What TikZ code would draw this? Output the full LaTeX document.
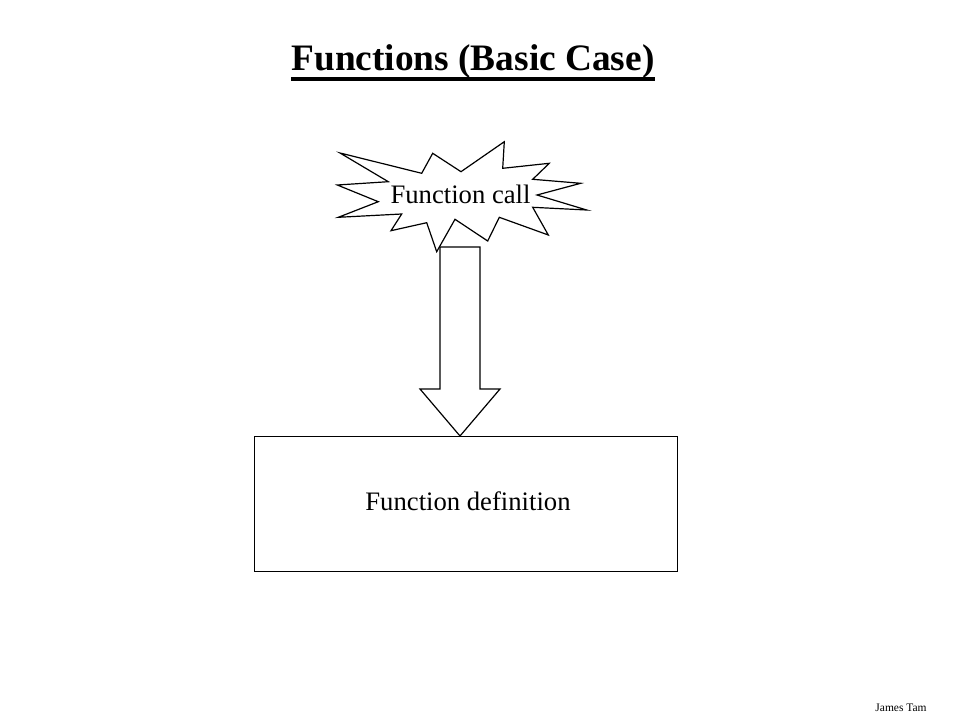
\documentclass[tikz,border=0pt]{standalone}
\usepackage{fontspec}
\setmainfont{Liberation Serif}
\begin{document}
\begin{tikzpicture}[x=0.75pt,y=-0.75pt,
  outline/.style={draw=black,line width=0.9pt,fill=white,line join=miter},
  lbl/.style={font=\fontsize{20}{24}\selectfont,inner sep=0pt}]
\useasboundingbox (0,0) rectangle (960,720);
% title
\node[font=\fontsize{28}{32}\selectfont\bfseries,inner sep=0pt,anchor=base] (title) at (473,71) {Functions (Basic Case)};
\draw[line width=2.4pt] (title.base west) ++(0,8) coordinate (ul1) -- (title.base east |- ul1);
% starburst
\draw[outline] (340,153) -- (421.7,173.3) -- (432.7,153.3) -- (461,171.7) -- (504.3,141.7)
  -- (502.7,168.3) -- (549.3,163.3) -- (532.7,179.3) -- (580.7,183.3) -- (537,195)
  -- (586.7,210) -- (532.7,207.3) -- (548.3,235) -- (499.3,217.3) -- (487.7,241)
  -- (455,219.3) -- (436.7,251.7) -- (426.7,222.7) -- (391,230.7) -- (401.7,214)
  -- (338.3,217.3) -- (378.3,201.7) -- (337.3,185) -- (388.3,181.7) -- cycle;
\node[lbl] (call) at (460.5,194) {Function call};
% box
\node[draw=black,line width=0.9pt,minimum width=423*0.75pt,minimum height=135*0.75pt,inner sep=0pt,anchor=north west] (def) at (254,436) {};
\node[lbl,anchor=base] (deflbl) at (468,510) {Function definition};
% block arrow
\coordinate (tip) at (def.north -| 460,0);
\draw[outline] (440,247) -- (480,247) -- (480,389) -- (500,389) -- (tip) -- (420,389) -- (440,389) -- cycle;
% footer
\node[font=\fontsize{8.6}{10}\selectfont,inner sep=0pt] (foot) at (901,708) {James Tam};
\end{tikzpicture}
\end{document}
